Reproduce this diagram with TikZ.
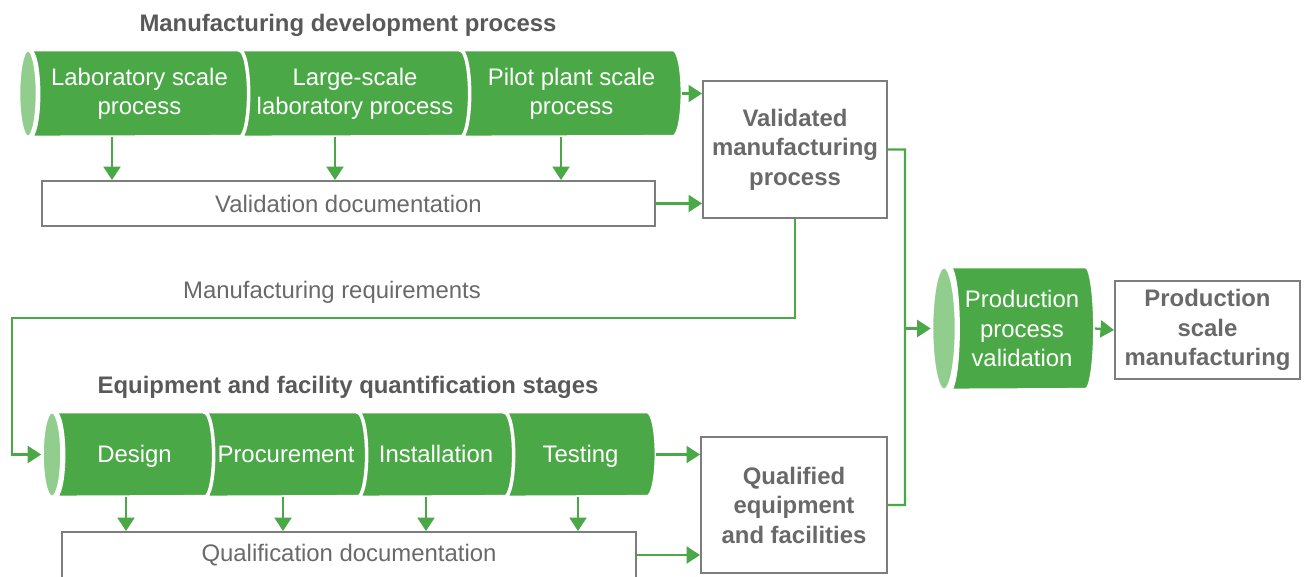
\documentclass[tikz,border=0pt]{standalone}
\usepackage{fontspec}
\setmainfont{Liberation Sans}
\usetikzlibrary{arrows.meta,shapes.geometric,backgrounds}
\definecolor{stagegreen}{RGB}{75,168,70}
\definecolor{capgreen}{RGB}{145,205,140}
\definecolor{flowgreen}{RGB}{75,168,70}
\definecolor{boxgray}{RGB}{125,125,125}
\definecolor{textgray}{RGB}{105,105,105}
\definecolor{titlegray}{RGB}{89,89,89}

% green cylinder body behind a stage node: #1 node, #2 half height
% (shifts are scaled by 0.2 inside the picture)
\newcommand{\stagebody}[2]{%
  \fill[stagegreen, draw=white, line width=2pt]
    ([xshift=-0.45cm]#1.north west) -- ([xshift=-0.45cm]#1.north east)
    arc[start angle=90, end angle=-90, x radius=0.9, y radius=#2]
    -- ([xshift=-0.45cm]#1.south west)
    arc[start angle=-90, end angle=90, x radius=0.9, y radius=#2] -- cycle;}

\begin{document}
\begin{tikzpicture}[scale=0.2,
  every node/.style={inner sep=0pt, font=\fontsize{13.6}{16.6}\selectfont},
  stage/.style={text=white, align=center},
  oneline/.style={stage, text height=10pt, text depth=1pt},
  endcap/.style={ellipse, fill=capgreen, draw=white, line width=1.5pt},
  docbox/.style={draw=boxgray, line width=1.1pt, text=textgray, align=center},
  result/.style={docbox, font=\fontsize{13.6}{16.8}\selectfont\bfseries},
  heading/.style={text=titlegray, font=\fontsize{13.6}{16.6}\selectfont\bfseries},
  link/.style={draw=flowgreen, line width=1.3pt},
  flow/.style={link, -{Triangle[width=0.34cm,length=0.27cm]}}]
\useasboundingbox (0,0) rectangle (130.7,-57.6);

% manufacturing development process
\node[heading] (devtitle) at (34.8,-2.5) {Manufacturing development process};
\node[stage, minimum width=4.2cm, minimum height=1.74cm] (lab) at (13.95,-9.35) {Laboratory scale\\process};
\node[stage, minimum width=4.42cm, minimum height=1.74cm] (largelab) at (35.5,-9.35) {Large-scale\\laboratory process};
\node[stage, minimum width=4.24cm, minimum height=1.74cm] (pilot) at (57.15,-9.35) {Pilot plant scale\\process};
\begin{pgfonlayer}{background}
\stagebody{lab}{4.35}
\stagebody{largelab}{4.35}
\stagebody{pilot}{4.35}
\end{pgfonlayer}
\node[endcap, minimum width=0.36cm, minimum height=1.74cm] (labcap) at (2.8,-9.35) {};
\node[docbox, minimum width=12.26cm, minimum height=0.9cm] (valdoc) at (34.85,-20.35) {Validation documentation};
\node[result, minimum width=3.68cm, minimum height=2.74cm] (validated) at (79.5,-14.95) {Validated\\manufacturing\\process};

\draw[flow] ([xshift=-2.75cm]lab.south) -- ([xshift=-2.75cm]lab.south |- valdoc.north);
\draw[flow] ([xshift=-2cm]largelab.south) -- ([xshift=-2cm]largelab.south |- valdoc.north);
\draw[flow] ([xshift=-1.05cm]pilot.south) -- ([xshift=-1.05cm]pilot.south |- valdoc.north);
\draw[flow] ([xshift=0.45cm]pilot.east) -- (pilot.east -| validated.west);
\draw[flow] (valdoc.east) -- (valdoc.east -| validated.west);

% requirements feed the equipment stages
\node[text=textgray] (reqlabel) at (33.2,-29.2) {Manufacturing requirements};
\coordinate (bend) at (1.2,-31.8);

% equipment and facility stages
\node[heading] (eqtitle) at (34.8,-38.75) {Equipment and facility quantification stages};
\node[oneline, minimum width=3.0cm, minimum height=1.7cm] (design) at (13.45,-45.45) {Design};
\node[oneline, minimum width=3.06cm, minimum height=1.7cm] (procure) at (28.6,-45.45) {Procurement};
\node[oneline, minimum width=2.94cm, minimum height=1.7cm] (install) at (43.6,-45.45) {Installation};
\node[oneline, minimum width=2.84cm, minimum height=1.7cm] (testing) at (58.05,-45.45) {Testing};
\begin{pgfonlayer}{background}
\stagebody{design}{4.25}
\stagebody{procure}{4.25}
\stagebody{install}{4.25}
\stagebody{testing}{4.25}
\end{pgfonlayer}
\node[endcap, minimum width=0.38cm, minimum height=1.7cm] (designcap) at (5.2,-45.45) {};
\node[docbox, minimum width=11.48cm, minimum height=0.92cm] (qualdoc) at (34.9,-55.5) {Qualification documentation};
\node[result, minimum width=3.72cm, minimum height=2.72cm] (qualified) at (79.4,-50.5) {Qualified\\equipment\\and facilities};

\draw[flow] (validated.south) |- (bend) |- (designcap.west);
\draw[flow] ([xshift=-0.85cm]design.south) -- ([xshift=-0.85cm]design.south |- qualdoc.north);
\draw[flow] ([xshift=-0.3cm]procure.south) -- ([xshift=-0.3cm]procure.south |- qualdoc.north);
\draw[flow] ([xshift=-1cm]install.south) -- ([xshift=-1cm]install.south |- qualdoc.north);
\draw[flow] ([xshift=-0.25cm]testing.south) -- ([xshift=-0.25cm]testing.south |- qualdoc.north);
\draw[flow] ([xshift=0.45cm]testing.east) -- (testing.east -| qualified.west);
\draw[flow] (qualdoc.east) -- (qualdoc.east -| qualified.west);

% production
\node[stage, minimum width=2.72cm, minimum height=2.46cm] (prodval) at (102.2,-32.85) {Production\\process\\validation};
\begin{pgfonlayer}{background}
\stagebody{prodval}{6.15}
\end{pgfonlayer}
\node[endcap, minimum width=0.48cm, minimum height=2.46cm] (prodcap) at (94.4,-32.85) {};
\node[result, minimum width=3.7cm, minimum height=1.96cm] (prodbox) at (120.75,-33) {Production\\scale\\manufacturing};

\coordinate (join) at ([xshift=1.7cm]validated.east);
\draw[link] (validated.east) -- (join) |- (qualified.east);
\draw[flow] (join |- prodcap.west) -- (prodcap.west);
\draw[flow] ([xshift=0.45cm]prodval.east) -- (prodbox.west);
\end{tikzpicture}
\end{document}
